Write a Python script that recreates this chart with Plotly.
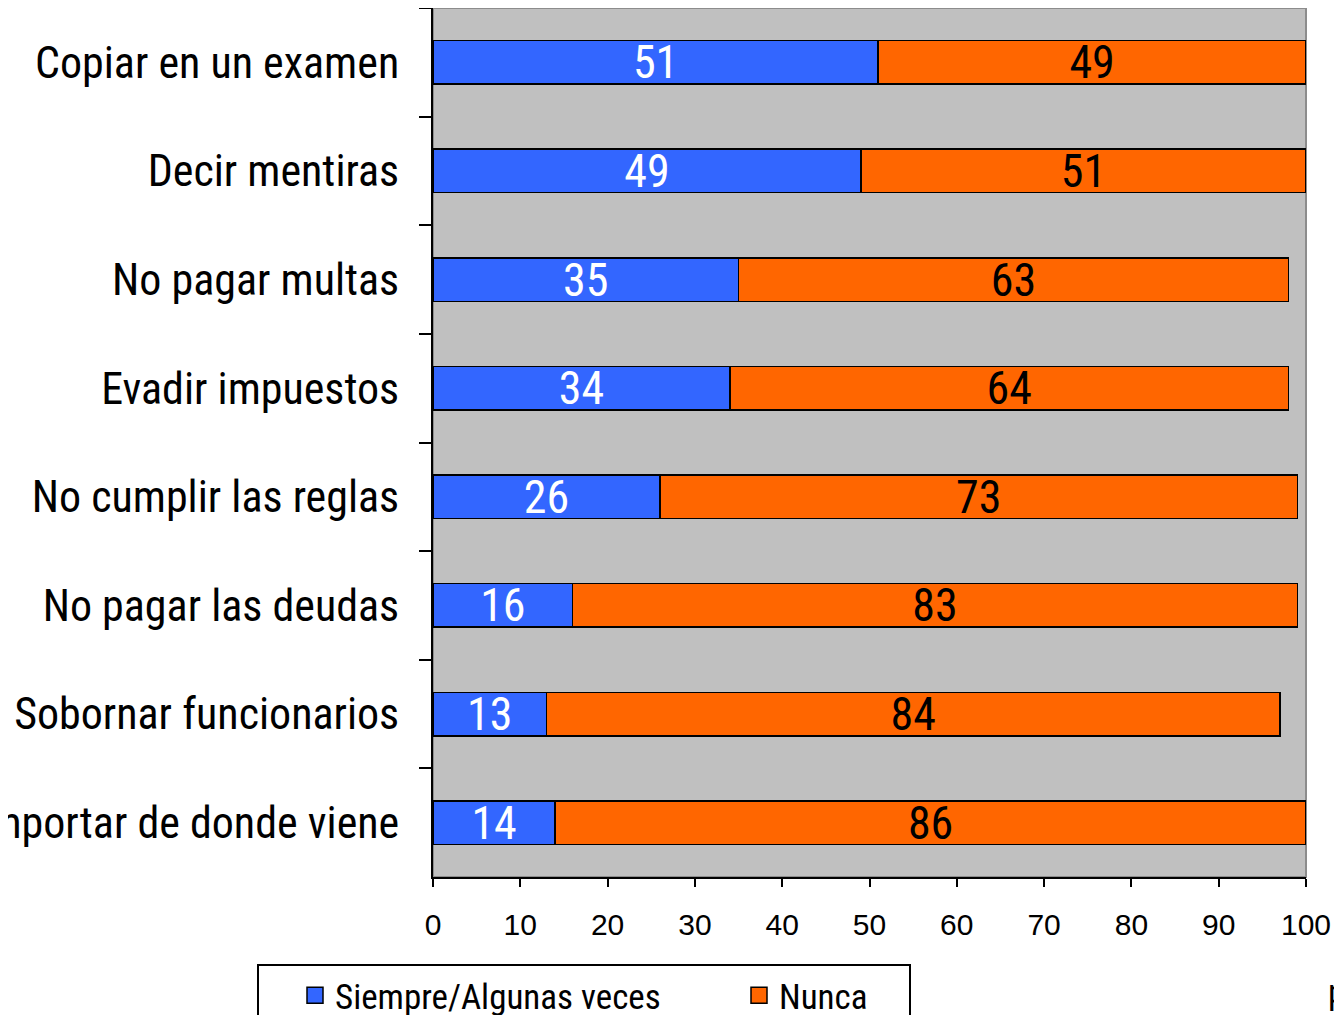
import plotly.graph_objects as go

categories = [
    "Copiar en un examen",
    "Decir mentiras",
    "No pagar multas",
    "Evadir impuestos",
    "No cumplir las reglas",
    "No pagar las deudas",
    "Sobornar funcionarios",
    "Comprar algo sin importar de donde viene",
]
siempre = [51, 49, 35, 34, 26, 16, 13, 14]
nunca = [49, 51, 63, 64, 73, 83, 84, 86]
x_ticks = [0, 10, 20, 30, 40, 50, 60, 70, 80, 90, 100]

NARROW = "Roboto Condensed, Arial Narrow, sans-serif"
BLUE = "#3366FF"
ORANGE = "#FF6600"

# page body has an 8px margin; figure coordinates are screen - 8
OFF = 8
W, H = 1342 - OFF, 1015 - OFF
L, R, T, B = 425, 36, 0, 138
pw, ph = W - L - R, H - T - B

def px_x(p):
    return (p - OFF - L) / pw

def px_y(p):
    return (H - B - (p - OFF)) / ph

fig = go.Figure()
fig.add_trace(go.Bar(
    y=categories, x=siempre, orientation="h", name="Siempre/Algunas veces",
    marker=dict(color=BLUE, line=dict(color="black", width=1.5)),
    text=[str(v) for v in siempre], textposition="inside", insidetextanchor="middle",
    textangle=0, constraintext="none",
    textfont=dict(family=NARROW, size=46, color="white"),
    showlegend=False,
))
fig.add_trace(go.Bar(
    y=categories, x=nunca, orientation="h", name="Nunca",
    marker=dict(color=ORANGE, line=dict(color="black", width=1.5)),
    text=[str(v) for v in nunca], textposition="inside", insidetextanchor="middle",
    textangle=0, constraintext="none",
    textfont=dict(family=NARROW, size=46, color="black"),
    showlegend=False,
))
# legend entries
for nm, col in [("Siempre/Algunas veces", BLUE), ("Nunca", ORANGE)]:
    fig.add_trace(go.Scatter(
        x=[None], y=[None], mode="markers", name=nm,
        marker=dict(symbol="square", size=16, color=col, line=dict(color="black", width=1.5)),
        showlegend=True,
    ))

fig.update_layout(
    width=W, height=H,
    margin=dict(l=L, r=R, t=T, b=B, autoexpand=False),
    barmode="stack", bargap=0.6,
    plot_bgcolor="#C0C0C0", paper_bgcolor="white",
    font=dict(family=NARROW, color="black"),
    showlegend=True,
    legend=dict(
        orientation="h", x=px_x(295), y=px_y(966), xanchor="left", yanchor="top",
        font=dict(family=NARROW, size=35, color="black"),
        bgcolor="rgba(0,0,0,0)", borderwidth=0, traceorder="normal",
        entrywidth=399, entrywidthmode="pixels", itemsizing="trace",
    ),
    xaxis=dict(
        range=[0, 100], tickvals=x_ticks, showgrid=False, zeroline=False,
        ticks="outside", ticklen=8, tickwidth=2, tickcolor="black",
        showline=True, linecolor="black", linewidth=2,
        tickfont=dict(family="Liberation Sans, Arial, sans-serif", size=30, color="black"),
        ticklabelstandoff=12, fixedrange=True,
    ),
    yaxis=dict(
        categoryorder="array", categoryarray=categories, autorange="reversed",
        tickson="boundaries", ticks="outside", ticklen=12, tickwidth=2, tickcolor="black",
        showline=True, linecolor="black", linewidth=2, showgrid=False,
        tickfont=dict(family=NARROW, size=44, color="black"),
        ticklabelstandoff=23, automargin=False,
    ),
    shapes=[
        dict(type="rect", xref="paper", yref="paper", x0=0, x1=1, y0=0, y1=1,
             line=dict(color="#8C8C8C", width=2), layer="below"),
        dict(type="rect", xref="paper", yref="paper", x0=px_x(258), x1=px_x(910),
             y0=px_y(965), y1=px_y(1040), line=dict(color="black", width=2)),
    ],
    annotations=[
        dict(text="porcentaje", xref="paper", yref="paper", x=px_x(1326), y=px_y(992),
             xanchor="left", yanchor="middle", showarrow=False,
             font=dict(family=NARROW, size=35, color="black")),
    ],
)

fig.write_html("out.html")
